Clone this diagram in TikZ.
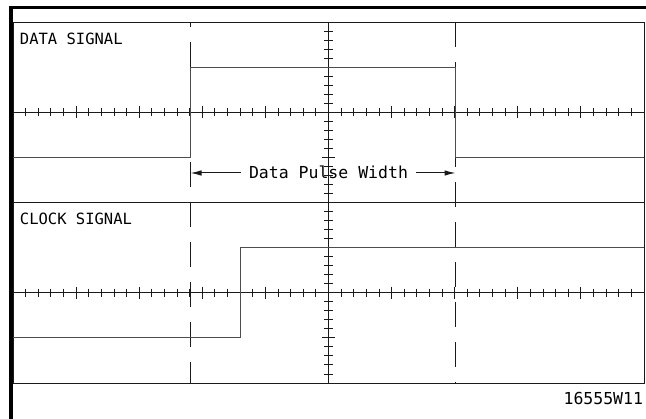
\documentclass[tikz,border=0pt]{standalone}
\usepackage{fontspec}
\setmainfont{DejaVu Sans}
\newfontfamily\plotfont{DejaVu Sans Mono}
\usetikzlibrary{arrows.meta, calc}
\definecolor{cink}{HTML}{1A1A1A}
\definecolor{cgrey}{HTML}{4D4D4D}
\tikzset{
  every picture/.style={line width=0.9pt},
  grat/.style={draw=cink, line width=0.9pt},
  sig/.style={draw=cgrey, line width=1.1pt},
  cursor/.style={draw=cink, line width=0.9pt, dash pattern=on 25pt off 15pt},
  frame/.style={draw=black, line width=3.6pt},
  arrow/.style={-{Latex[length=11pt,width=5.5pt]}, draw=cink, line width=1pt},
  tag/.style={font=\plotfont\fontsize{15.5}{18}\selectfont, inner sep=0pt},
  bigtag/.style={font=\plotfont\fontsize{16.5}{20}\selectfont, inner sep=0pt},
}

\begin{document}
\begin{tikzpicture}[x=1pt, y=-1pt]
  \useasboundingbox (0,0) rectangle (646,419);
  \draw[frame] (11,419) -- (11,7.5) -- (646,7.5);
  % graticule
  \draw[grat] (13,22) rectangle (644,383);
  \draw[grat] (13,202.5) -- (644,202.5);
  \draw[grat] (328.5,22) -- (328.5,383);
  \foreach \y in {112.25,292.75} {
    \draw[grat] (13,\y) -- (644,\y);
    \foreach \k in {1,...,49} {
      \pgfmathsetmacro\tl{mod(\k,5)==0 ? 6 : 4}
      \draw[grat] ({13+12.62*\k},\y-\tl) -- ++(0,2*\tl);
    }
  }
  \foreach \k in {1,...,39} {
    \pgfmathsetmacro\tl{mod(\k,5)==0 ? 6.5 : 4.5}
    \draw[grat] (328.5-\tl,{22+9.025*\k}) -- ++(2*\tl,0);
  }
  % cursors
  \draw[cursor, dash phase=20pt] (190.5,22) -- (190.5,383);
  \draw[cursor] (455.5,22) -- (455.5,383);
  % signals
  \draw[sig] (13,157.4) -| (190.5,67.1) -| (455.5,157.4) -- (644,157.4);
  \draw[sig] (13,337.9) -| (240.8,247.6) -- (644,247.6);
  % labels
  \node[tag, anchor=base west] (datalbl) at (19.5,44.3) {DATA SIGNAL};
  \node[tag, anchor=base west] (clklbl) at (19.5,225) {CLOCK SIGNAL};
  \node[bigtag, inner xsep=8pt, anchor=base] (pw) at (328.5,179) {Data Pulse Width};
  \coordinate (pwl) at (190.5,173);
  \coordinate (pwr) at (455.5,173);
  \draw[arrow] (pw.west |- pwl) -- (pwl);
  \draw[arrow] (pw.east |- pwr) -- (pwr);
  \node[bigtag, anchor=base east] (figid) at (643.5,405) {16555W11};
\end{tikzpicture}
\end{document}
